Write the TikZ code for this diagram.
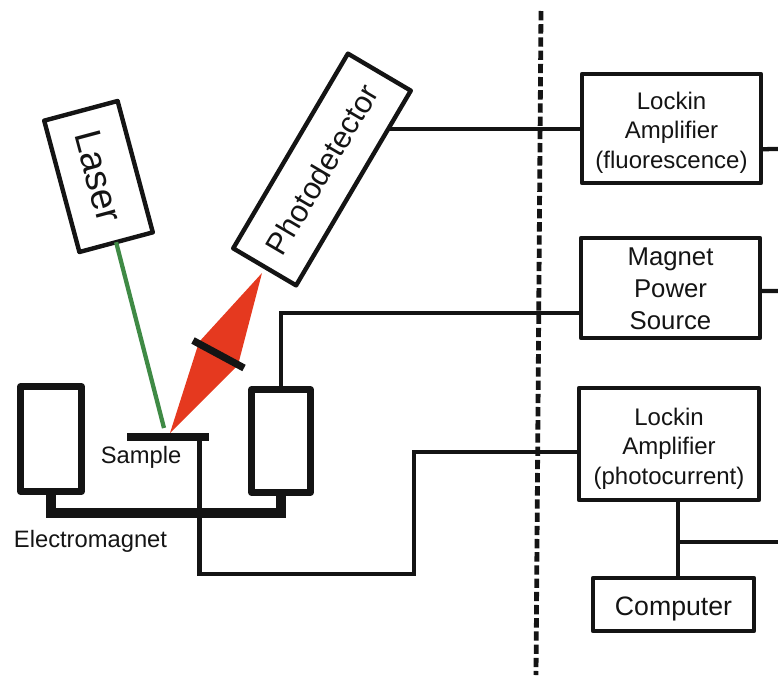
\documentclass[tikz,border=0pt]{standalone}
\usepackage{fontspec}
\setmainfont{Liberation Sans}
\usetikzlibrary{calc}
\definecolor{ink}{HTML}{141414}
\definecolor{beam}{HTML}{E5391F}
\definecolor{laserline}{HTML}{3F8A45}
\newcommand{\fs}[2]{\fontsize{#1}{#2}\selectfont}
\tikzset{
  sized/.style 2 args={minimum width=#1*0.75pt, minimum height=#2*0.75pt},
  box/.style={draw=ink, line width=3.3pt, rectangle, inner sep=0pt, outer sep=0pt, align=center, text=ink, line join=round},
  coil/.style={box, line width=5pt},
  wire/.style={draw=ink, line width=3.2pt, line join=miter},
  thinwire/.style={draw=ink, line width=3.3pt},
  yoke/.style={draw=ink, line width=7.5pt},
  lab/.style={text=ink, inner sep=0pt, font=\fs{17.8}{22}},
}
\begin{document}
\begin{tikzpicture}[x=0.75pt,y=-0.75pt]
\useasboundingbox (0,0) rectangle (778,675);
% instruments, right-hand side
\node[box,sized={179}{109},font=\fs{18}{22.2},text height=63.4pt] (lf) at (671.5,128.5) {Lockin\\Amplifier\\(fluorescence)};
\node[box,sized={179}{100},font=\fs{19.3}{24},text height=62pt] (mag) at (670.5,288) {Magnet\\Power\\Source};
\node[box,sized={180}{112},font=\fs{18}{22.2},text height=64.2pt] (lp) at (669,444) {Lockin\\Amplifier\\(photocurrent)};
\node[box,sized={161}{53},font=\fs{20}{24},text height=21pt] (comp) at (673.5,604.5) {Computer};
% optics
\node[box,sized={136}{76},rotate=-75,font=\fs{28}{32}] (laser) at (98.5,176.5) {Laser};
\node[box,sized={226}{73},rotate=59.5,font=\fs{23}{28}] (pd) at (322,169.5) {Photodetector};
% beam and lens
\coordinate (beamtop) at (262,273);
\coordinate (beamleft) at (199,342);
\coordinate (beamright) at (238,365);
\fill[beam] (beamtop) -- (beamright) -- (170,433) -- (beamleft) -- cycle;
\draw[draw=ink,line width=5.4pt] (193,340.5) -- (244,368);
% sample and coils
\node[fill=ink,inner sep=0pt,outer sep=0pt,sized={82}{8}] (sb) at (168,437) {};
\node[coil,sized={61}{105}] (lc) at (51,439) {};
\node[coil,sized={59}{103}] (rc) at (281,441) {};
\coordinate (beamspot) at (164,428);
\draw[draw=laserline,line width=3.2pt] (laser.east) -- (beamspot);
% electromagnet yoke
\coordinate (yokemid) at (166,513);
\draw[yoke] (lc.south) |- (yokemid) -| (rc.south);
% sample wire
\coordinate (w1) at (199.5,574);
\coordinate (w2) at (414,574);
\coordinate (lpport) at ($(lp.south west)!0.43!(lp.north west)$);
\draw[thinwire] (w1 |- sb.south) |- (w2) |- (lpport);
% magnet wire
\coordinate (magport) at ($(mag.south west)!0.25!(mag.north west)$);
\draw[wire] (rc.north) |- (magport);
% photodetector wire
\coordinate (pdport) at ($(pd.south east)!0.195!(pd.south west)$);
\draw[wire] (pdport) -- (pdport -| lf.west);
% outgoing wires
\coordinate (lfout) at ($(lf.south east)!0.31!(lf.north east)$);
\draw[wire] (lfout) -- (778,149);
\coordinate (magout) at ($(mag.south east)!0.47!(mag.north east)$);
\draw[wire] (magout) -- (778,291);
\coordinate (lptap) at (678,500);
\coordinate (lpjoin) at (678,542);
\draw[wire] (lptap) -- (lptap |- comp.north);
\draw[wire] (lpjoin) -- (778,542);
% labels
\node[lab] (samplelab) at (141,457) {Sample};
\node[lab] (emlab) at (90.5,541) {Electromagnet};
% divider
\coordinate (divtop) at (541,11);
\coordinate (divbot) at (536,675);
\draw[draw=ink,line width=3.6pt,dash pattern=on 7pt off 2.9pt] (divtop) -- (divbot);
\end{tikzpicture}
\end{document}
